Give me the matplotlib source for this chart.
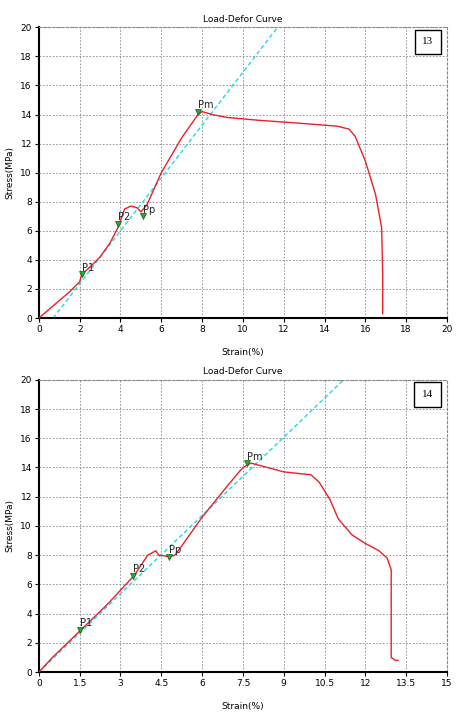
import matplotlib
matplotlib.use("Agg")
import matplotlib.pyplot as plt

# specimen 13
s13_x = [0, 0.5, 1, 1.5, 2, 2.1, 2.5, 3, 3.5, 3.9, 4.2, 4.5, 4.8, 5.0, 5.3, 6, 7, 7.8, 8.0,
         8.5, 9.2, 10.8, 12.8, 14.6, 15.2, 15.5, 16.0, 16.5, 16.8, 16.85, 16.85]
s13_y = [0, 0.6, 1.2, 1.8, 2.5, 3.0, 3.5, 4.2, 5.2, 6.3, 7.5, 7.7, 7.6, 7.3, 7.8, 10.0, 12.4,
         14.0, 14.2, 14.0, 13.8, 13.6, 13.4, 13.2, 13.0, 12.5, 10.8, 8.5, 6.2, 3.0, 0.3]
fit13_x = [0.7, 11.7]
fit13_y = [0, 20]
mk13_lbl = ["P1", "P2", "Pp", "Pm"]
mk13_x = [2.1, 3.9, 5.1, 7.8]
mk13_y = [3.0, 6.5, 7.0, 14.2]

# specimen 14
s14_x = [0, 0.5, 1, 1.5, 2, 2.5, 3, 3.5, 4.0, 4.3, 4.4, 4.8, 5.0, 5.2, 6, 7, 7.5, 7.8, 8.2,
         8.6, 9, 9.5, 10, 10.3, 10.7, 11, 11.5, 12, 12.5, 12.8, 12.95, 12.95, 13.1, 13.2]
s14_y = [0, 1.0, 1.9, 2.8, 3.7, 4.6, 5.6, 6.6, 8.0, 8.3, 8.0, 7.9, 8.0, 8.5, 10.6, 12.9,
         14.0, 14.3, 14.1, 13.9, 13.7, 13.6, 13.5, 13.0, 11.8, 10.5, 9.4, 8.8, 8.3, 7.8,
         7.0, 1.0, 0.8, 0.8]
fit14_x = [0, 11.2]
fit14_y = [0, 20]
mk14_lbl = ["P1", "P2", "Pp", "Pm"]
mk14_x = [1.5, 3.45, 4.8, 7.65]
mk14_y = [2.9, 6.6, 7.9, 14.3]

panels = [
    ("13", s13_x, s13_y, fit13_x, fit13_y, mk13_lbl, mk13_x, mk13_y, 20, list(range(0, 21, 2))),
    ("14", s14_x, s14_y, fit14_x, fit14_y, mk14_lbl, mk14_x, mk14_y, 15,
     [0, 1.5, 3, 4.5, 6, 7.5, 9, 10.5, 12, 13.5, 15]),
]

fig = plt.figure(figsize=(4.74, 7.18), dpi=100)
rects = [(0.082, 0.557, 0.861, 0.405), (0.082, 0.064, 0.861, 0.407)]

for rect, (tag, xs, ys, fx, fy, lbls, mx, my, xmax, xt) in zip(rects, panels):
    ax = fig.add_axes(rect)
    ax.plot(fx, fy, color="#22d8e0", lw=1, ls=(0, (3, 2)), zorder=2)
    ax.plot(xs, ys, color="#e8202a", lw=1, zorder=3)
    ax.scatter(mx, my, marker="v", s=18, color="#2ea82e", edgecolor="#0a5a0a", lw=0.5, zorder=4)
    for l, x, y in zip(lbls, mx, my):
        ax.text(x, y + 0.1, l, fontsize=7, ha="left", va="bottom", color="#222222", zorder=5)
    ax.set_xlim(0, xmax)
    ax.set_ylim(0, 20)
    ax.set_xticks(xt)
    ax.set_xticklabels([f"{v:g}" for v in xt])
    ax.set_yticks(range(0, 21, 2))
    ax.tick_params(labelsize=6.5, length=3, pad=2)
    ax.grid(True, color="#888888", ls=(0, (2, 2)), lw=0.6)
    ax.spines["left"].set_linewidth(1.5)
    ax.spines["bottom"].set_linewidth(1.5)
    for side in ("top", "right"):
        ax.spines[side].set_linestyle((0, (2, 2)))
        ax.spines[side].set_color("#888888")
    ax.set_title("Load-Defor Curve", fontsize=6.5, pad=4)
    ax.set_xlabel("Strain(%)", fontsize=6.5, labelpad=10)
    ax.set_ylabel("Stress(MPa)", fontsize=6.5, labelpad=4)
    ax.text(0.967, 0.965, tag, transform=ax.transAxes, ha="right", va="top",
            fontsize=8, family="Liberation Serif",
            bbox=dict(boxstyle="square,pad=0.7", fc="white", ec="black", lw=1))

fig.savefig("out.png", dpi=100)
